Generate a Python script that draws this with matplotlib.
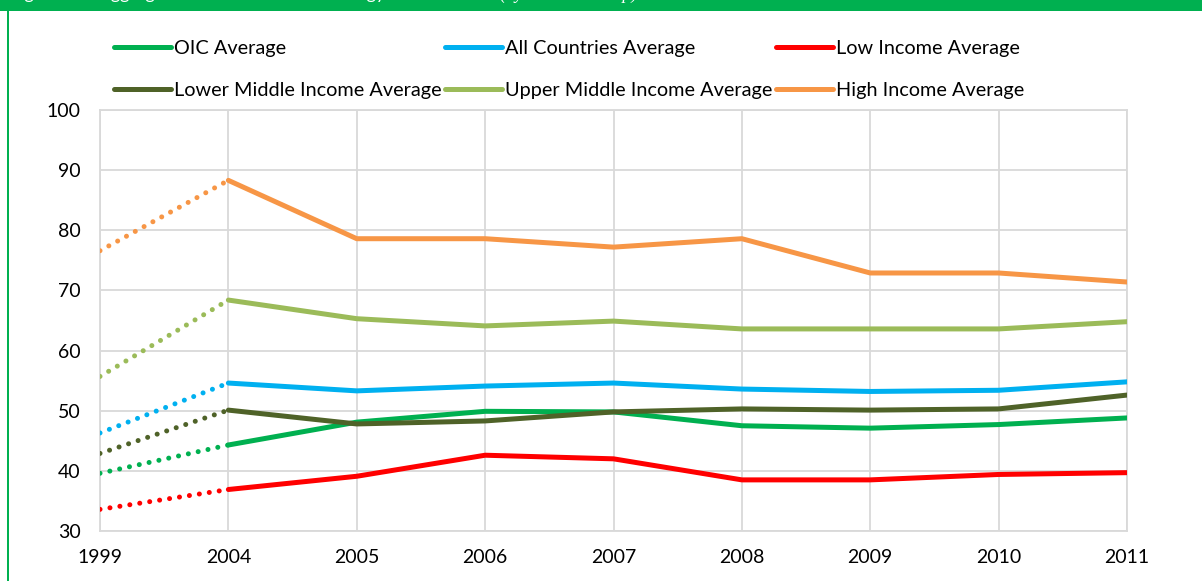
import matplotlib
matplotlib.use("Agg")
import matplotlib.pyplot as plt
from matplotlib.lines import Line2D
from matplotlib.patches import Rectangle

# Category axis and series values
years = ["1999", "2004", "2005", "2006", "2007", "2008", "2009", "2010", "2011"]

oic_avg = [39.6, 44.3, 48.1, 49.9, 49.8, 47.5, 47.1, 47.7, 48.8]
all_countries_avg = [46.3, 54.6, 53.3, 54.1, 54.6, 53.6, 53.2, 53.4, 54.8]
low_income_avg = [33.6, 36.9, 39.1, 42.6, 42.0, 38.5, 38.5, 39.4, 39.7]
lower_middle_avg = [42.9, 50.1, 47.8, 48.3, 49.8, 50.3, 50.1, 50.3, 52.6]
upper_middle_avg = [55.7, 68.4, 65.3, 64.1, 64.9, 63.6, 63.6, 63.6, 64.8]
high_income_avg = [76.6, 88.3, 78.6, 78.6, 77.2, 78.6, 72.9, 72.9, 71.4]

series = [
    ("OIC Average", oic_avg, "#00B050"),
    ("All Countries Average", all_countries_avg, "#00B0F0"),
    ("Low Income Average", low_income_avg, "#FF0000"),
    ("Lower Middle Income Average", lower_middle_avg, "#4F6228"),
    ("Upper Middle Income Average", upper_middle_avg, "#9BBB59"),
    ("High Income Average", high_income_avg, "#F79646"),
]

y_ticks = [30, 40, 50, 60, 70, 80, 90, 100]

FONT = "Lato"
W, H = 1202, 581
fig = plt.figure(figsize=(W / 100, H / 100), dpi=100)

# Frame: green header band and left rule
fig.patches.append(Rectangle((0, 1 - 11 / H), 1, 11 / H, transform=fig.transFigure,
                             facecolor="#00B050", edgecolor="none", zorder=0))
fig.patches.append(Rectangle((7 / W, 0), 2 / W, 1 - 11 / H, transform=fig.transFigure,
                             facecolor="#00B050", edgecolor="none", zorder=0))
fig.text(10 / W, 1 + 1 / H, "Figure 2.3: Aggregate Scores of the Technology Index",
         color="white", fontsize=13, family=FONT, va="baseline", ha="left")
fig.text(500 / W, 1 + 1 / H, "(by Income Group)",
         color="white", fontsize=13, family="Liberation Serif", style="italic",
         va="baseline", ha="left")

ax = fig.add_axes([100 / W, (H - 531) / H, 1027 / W, 421 / H])

x = list(range(len(years)))
lw = 3.6
for name, vals, col in series:
    # dotted link from 1999 to 2004, solid from 2004 on
    ax.plot(x[:2], vals[:2], color=col, lw=lw, linestyle=(0, (0.01, 2.0)),
            dash_capstyle="round", solid_capstyle="round", zorder=3)
    ax.plot(x[1:], vals[1:], color=col, lw=lw, solid_capstyle="round",
            solid_joinstyle="round", zorder=3)

ax.set_xlim(0, len(years) - 1)
ax.set_ylim(30, 100)
ax.set_xticks(x)
ax.set_xticklabels(years)
ax.set_yticks(y_ticks)
ax.grid(True, color="#D9D9D9", lw=1.3, zorder=0)
ax.set_axisbelow(True)
for s in ax.spines.values():
    s.set_color("#D9D9D9")
    s.set_linewidth(1.3)
ax.tick_params(length=0, labelsize=14, labelcolor="black")
ax.tick_params(axis="x", pad=13)
ax.tick_params(axis="y", pad=14)
for lab in ax.get_xticklabels() + ax.get_yticklabels():
    lab.set_family(FONT)

# Legend: three columns, filled column-wise
order = [0, 3, 1, 4, 2, 5]
handles = [Line2D([], [], color=series[i][2], lw=lw, solid_capstyle="round") for i in order]
labels = [series[i][0] for i in order]
fig.legend(handles, labels, ncol=3, loc="upper left",
           bbox_to_anchor=(114 / W, 1 - 40 / H), bbox_transform=fig.transFigure,
           frameon=False, borderpad=0, borderaxespad=0, handlelength=2.85,
           handletextpad=0.15, columnspacing=0.2, labelspacing=1.24,
           prop={"family": FONT, "size": 14.3})

fig.savefig("out.png", dpi=100)
